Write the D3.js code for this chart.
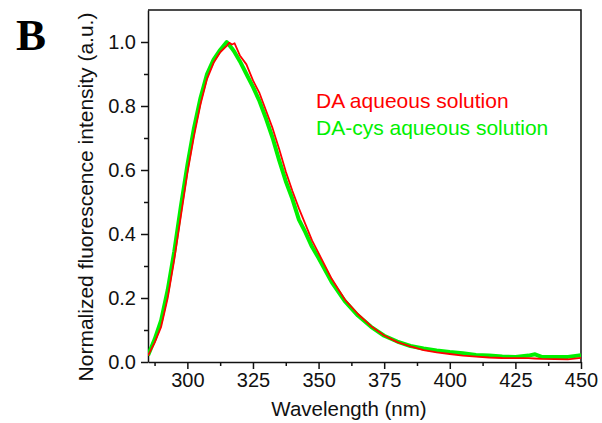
<!DOCTYPE html>
<html>
<head>
<meta charset="utf-8">
<script src="https://cdn.jsdelivr.net/npm/d3@7"></script>
<style>
  body { margin: 0; background: #fff; }
  text { font-family: Arial, "Liberation Sans", sans-serif; }
  .axis path, .axis line { stroke: #111; stroke-width: 1.5; }
  .axis text { font-size: 20px; fill: #111; }
</style>
</head>
<body>
<svg id="chart"></svg>
<script>
// 1. data
const wavelengths = [285, 287.5, 290, 292.5, 295, 297.5, 300, 302.5, 305, 307.5, 310, 312.5,
  315, 316, 317, 318, 320, 322.5, 325, 327.5, 330, 332.5, 335, 337.5, 340, 342.5, 345, 347.5,
  350, 355, 360, 365, 370, 375, 380, 385, 390, 395, 400, 405, 410, 415, 420, 425, 430, 432.5,
  435, 440, 445, 450];

const daValues = [0.02, 0.06, 0.11, 0.20, 0.32, 0.455, 0.59, 0.705, 0.805, 0.885, 0.935, 0.968,
  0.988, 0.998, 0.992, 0.996, 0.958, 0.93, 0.88, 0.84, 0.785, 0.73, 0.665, 0.595, 0.535, 0.48,
  0.43, 0.38, 0.34, 0.26, 0.195, 0.15, 0.112, 0.083, 0.062, 0.049, 0.037, 0.030, 0.025, 0.020,
  0.017, 0.014, 0.0125, 0.012, 0.012, 0.011, 0.010, 0.009, 0.008, 0.013];

const daCysValues = [0.02, 0.07, 0.13, 0.225, 0.345, 0.485, 0.615, 0.73, 0.825, 0.9, 0.945, 0.975,
  1.0, 0.99, 0.98, 0.968, 0.94, 0.9, 0.86, 0.815, 0.76, 0.7, 0.63, 0.565, 0.51, 0.445,
  0.405, 0.36, 0.325, 0.25, 0.19, 0.145, 0.11, 0.082, 0.064, 0.05, 0.042, 0.036, 0.031, 0.027,
  0.022, 0.02, 0.017, 0.016, 0.02, 0.024, 0.016, 0.016, 0.016, 0.021];

const xTicks = [300, 325, 350, 375, 400, 425, 450];
const xMinorTicks = [287.5, 312.5, 337.5, 362.5, 387.5, 412.5, 437.5];
const yTicks = [0.0, 0.2, 0.4, 0.6, 0.8, 1.0];
const yMinorTicks = [0.1, 0.3, 0.5, 0.7, 0.9];

const seriesNames = ['DA aqueous solution', 'DA-cys aqueous solution'];
const seriesColors = ['#ff0000', '#00f000'];

// 2. layout
const W = 602, H = 423;
const plotLeft = 148, plotRight = 581, plotTop = 10, plotBottom = 362;

const svg = d3.select('#chart')
  .attr('width', W)
  .attr('height', H);

// 3. scales
const xScale = d3.scaleLinear()
  .domain([285, 450])
  .range([plotLeft, plotRight]);

const yScale = d3.scaleLinear()
  .domain([0, 1.1])
  .range([plotBottom, plotTop]);

// frame (top and right)
svg.append('path')
  .attr('d', `M${plotLeft},${plotTop}H${plotRight}V${plotBottom}`)
  .attr('fill', 'none')
  .attr('stroke', '#111')
  .attr('stroke-width', 1.5);

// 4. axes
svg.append('g')
  .attr('class', 'axis')
  .attr('transform', `translate(0,${plotBottom})`)
  .call(d3.axisBottom(xScale).tickValues(xMinorTicks).tickSize(4).tickFormat(''))
  .call(g => g.select('.domain').remove());

svg.append('g')
  .attr('class', 'axis')
  .attr('transform', `translate(0,${plotBottom})`)
  .call(d3.axisBottom(xScale).tickValues(xTicks).tickSize(7).tickSizeOuter(0).tickPadding(4)
    .tickFormat(d3.format('d')));

svg.append('g')
  .attr('class', 'axis')
  .attr('transform', `translate(${plotLeft},0)`)
  .call(d3.axisLeft(yScale).tickValues(yMinorTicks).tickSize(4).tickFormat(''))
  .call(g => g.select('.domain').remove());

svg.append('g')
  .attr('class', 'axis')
  .attr('transform', `translate(${plotLeft},0)`)
  .call(d3.axisLeft(yScale).tickValues(yTicks).tickSize(7).tickSizeOuter(0).tickPadding(5)
    .tickFormat(d3.format('.1f')));

// axis labels
svg.append('text')
  .attr('x', 349)
  .attr('y', 416)
  .attr('text-anchor', 'middle')
  .style('font-size', '20.5px')
  .attr('fill', '#111')
  .text('Wavelength (nm)');

svg.append('text')
  .attr('transform', 'translate(93,197) rotate(-90)')
  .attr('text-anchor', 'middle')
  .style('font-size', '21px')
  .attr('fill', '#111')
  .text('Normalized fluorescence intensity (a.u.)');

// panel letter
svg.append('text')
  .attr('x', 16)
  .attr('y', 50)
  .style('font-family', '"Liberation Serif", "Times New Roman", serif')
  .style('font-size', '45px')
  .style('font-weight', 'bold')
  .attr('fill', '#000')
  .text('B');

// 5. lines
svg.append('clipPath')
  .attr('id', 'plotClip')
  .append('rect')
  .attr('x', plotLeft)
  .attr('y', plotTop)
  .attr('width', plotRight - plotLeft)
  .attr('height', plotBottom - plotTop);

const line = values => d3.line()
  .x((d, i) => xScale(wavelengths[i]))
  .y(d => yScale(d))(values);

const plot = svg.append('g').attr('clip-path', 'url(#plotClip)');

plot.append('path')
  .attr('d', line(daCysValues))
  .attr('fill', 'none')
  .attr('stroke', seriesColors[1])
  .attr('stroke-width', 4)
  .attr('stroke-linejoin', 'round');

plot.append('path')
  .attr('d', line(daValues))
  .attr('fill', 'none')
  .attr('stroke', seriesColors[0])
  .attr('stroke-width', 1.8)
  .attr('stroke-linejoin', 'round');

// legend
svg.selectAll('.legend')
  .data(seriesNames).enter()
  .append('text')
  .attr('class', 'legend')
  .attr('x', 316)
  .attr('y', (d, i) => 108 + i * 27)
  .style('font-size', '21px')
  .attr('fill', (d, i) => seriesColors[i])
  .text(d => d);
</script>
</body>
</html>
